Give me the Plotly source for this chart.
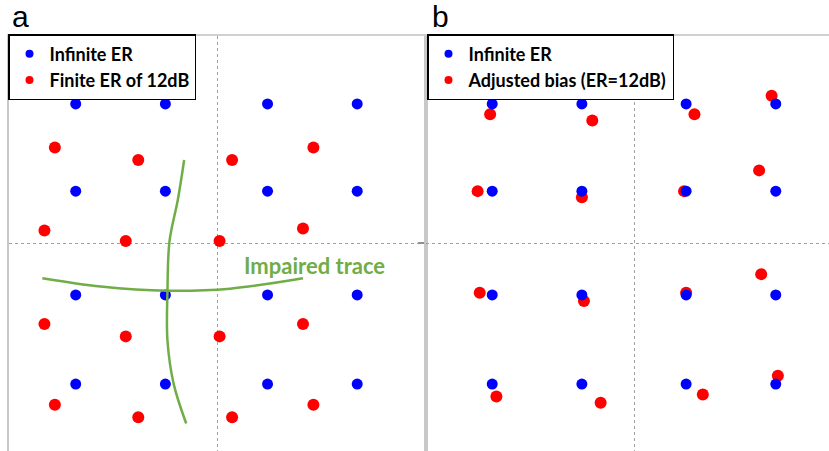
import plotly.graph_objects as go

# ---------------- data (normalised I/Q units) ----------------
# Panel a: ideal constellation (infinite ER)
a_blue_x = [-0.68, -0.25, 0.24, 0.67] * 4
a_blue_y = [0.67] * 4 + [0.25] * 4 + [-0.25] * 4 + [-0.68] * 4

# Panel a: finite ER of 12 dB
a_red_x = [-0.78, -0.38, 0.07, 0.46,
           -0.83, -0.44, 0.01, 0.41,
           -0.83, -0.44, 0.01, 0.41,
           -0.78, -0.38, 0.07, 0.46]
a_red_y = [0.46, 0.40, 0.40, 0.46,
           0.06, 0.01, 0.01, 0.07,
           -0.39, -0.45, -0.45, -0.39,
           -0.78, -0.84, -0.84, -0.78]

# Impaired trace (green curves)
trace_v_x = [-0.16, -0.19, -0.23, -0.24, -0.24, -0.21, -0.15]
trace_v_y = [0.40, 0.21, 0.01, -0.23, -0.47, -0.68, -0.87]
trace_h_x = [-0.84, -0.56, -0.24, 0.06, 0.41]
trace_h_y = [-0.17, -0.21, -0.23, -0.22, -0.17]

# Panel b: ideal constellation
b_blue_x = [-0.68, -0.25, 0.25, 0.68] * 4
b_blue_y = [0.67] * 4 + [0.25] * 4 + [-0.25] * 4 + [-0.68] * 4

# Panel b: adjusted bias (ER = 12 dB)
b_red_x = [-0.69, -0.20, 0.29, 0.66,
           -0.75, -0.25, 0.24, 0.60,
           -0.74, -0.24, 0.25, 0.61,
           -0.66, -0.16, 0.33, 0.69]
b_red_y = [0.62, 0.59, 0.62, 0.71,
           0.25, 0.22, 0.25, 0.35,
           -0.24, -0.28, -0.24, -0.15,
           -0.74, -0.77, -0.73, -0.64]

legend_a = ["Infinite ER", "Finite ER of 12dB"]
legend_b = ["Infinite ER", "Adjusted bias (ER=12dB)"]
panel_labels = ["a", "b"]
annot_text = "Impaired trace"

# ---------------- figure ----------------
W, H = 829, 451
BLUE = "#0000ff"
RED = "#ff0000"
GREEN = "#70ad47"
LEG_FONT = dict(family="Lato, 'Open Sans', sans-serif", size=18, color="black")

fig = go.Figure()

# legend-only entries (small bullets)
for name, col, leg, xa, ya in [
    (legend_a[0], BLUE, "legend", "x", "y"),
    (legend_a[1], RED, "legend", "x", "y"),
    (legend_b[0], BLUE, "legend2", "x2", "y2"),
    (legend_b[1], RED, "legend2", "x2", "y2"),
]:
    fig.add_trace(go.Scatter(x=[None], y=[None], mode="markers",
                             name="<b>" + name + "</b>",
                             marker=dict(color=col, size=8), legend=leg,
                             xaxis=xa, yaxis=ya, showlegend=True))

# panel a
fig.add_trace(go.Scatter(x=a_red_x, y=a_red_y, mode="markers",
                         marker=dict(color=RED, size=12), showlegend=False,
                         xaxis="x", yaxis="y", hoverinfo="skip"))
fig.add_trace(go.Scatter(x=a_blue_x, y=a_blue_y, mode="markers",
                         marker=dict(color=BLUE, size=11), showlegend=False,
                         xaxis="x", yaxis="y", hoverinfo="skip"))
fig.add_trace(go.Scatter(x=trace_v_x, y=trace_v_y, mode="lines",
                         line=dict(color=GREEN, width=2.5, shape="spline"),
                         showlegend=False, xaxis="x", yaxis="y", hoverinfo="skip"))
fig.add_trace(go.Scatter(x=trace_h_x, y=trace_h_y, mode="lines",
                         line=dict(color=GREEN, width=2.5, shape="spline"),
                         showlegend=False, xaxis="x", yaxis="y", hoverinfo="skip"))

# panel b
fig.add_trace(go.Scatter(x=b_red_x, y=b_red_y, mode="markers",
                         marker=dict(color=RED, size=12), showlegend=False,
                         xaxis="x2", yaxis="y2", hoverinfo="skip"))
fig.add_trace(go.Scatter(x=b_blue_x, y=b_blue_y, mode="markers",
                         marker=dict(color=BLUE, size=11), showlegend=False,
                         xaxis="x2", yaxis="y2", hoverinfo="skip"))

SX, SY = 208.5, 207.5
xa_left, xa_right, xa_c = 9, 426, 217.5
xb_left, xb_c = 426, 634
y_top, y_bot, y_c = 36, 451, 243

xr_a = [-(xa_c - xa_left) / SX, (xa_right - xa_c) / SX]
xr_b = [-(xb_c - xb_left) / SX, (W - xb_c) / SX]
yr = [-(y_bot - y_c) / SY, (y_c - y_top) / SY]
ydom = [0, (H - y_top) / H]

grid_common = dict(tickvals=[0], showticklabels=False, showgrid=True,
                   gridcolor="#a0a0a0", griddash="dot", gridwidth=1,
                   zeroline=False, fixedrange=True)

fig.update_layout(
    width=W, height=H,
    margin=dict(l=0, r=0, t=0, b=0),
    paper_bgcolor="white", plot_bgcolor="white",
    xaxis=dict(domain=[xa_left / W, xa_right / W], range=xr_a, side="top",
               anchor="y", showline=True, linecolor="#d0d0d0", linewidth=1.5,
               ticks="", **grid_common),
    yaxis=dict(domain=ydom, range=yr, anchor="x", showline=True, mirror=True,
               linecolor="#c8c8c8", linewidth=2, ticks="", **grid_common),
    xaxis2=dict(domain=[xb_left / W, 1], range=xr_b, side="top",
                anchor="y2", showline=True, linecolor="#d0d0d0", linewidth=1.5,
                ticks="", **grid_common),
    yaxis2=dict(domain=ydom, range=yr, anchor="x2", showline=True,
                linecolor="#c8c8c8", linewidth=2, ticks="outside", ticklen=6,
                tickcolor="#909090", tickwidth=1.5, **grid_common),
    legend=dict(x=8 / W, y=1 - 34 / H, xanchor="left", yanchor="top",
                bgcolor="white", bordercolor="black", borderwidth=1.5,
                font=LEG_FONT, tracegroupgap=0, itemwidth=30),
    legend2=dict(x=427 / W, y=1 - 34 / H, xanchor="left", yanchor="top",
                 bgcolor="white", bordercolor="black", borderwidth=1.5,
                 font=LEG_FONT, tracegroupgap=0, itemwidth=30),
    showlegend=True,
)

# panel labels
for lab, px in zip(panel_labels, [10, 430]):
    fig.add_annotation(text=lab, xref="paper", yref="paper",
                       x=px / W, y=1 - 16.6 / H, xanchor="left", yanchor="middle",
                       showarrow=False,
                       font=dict(family="Liberation Sans, Arial, sans-serif",
                                 size=30, color="black"))

# impaired trace label
fig.add_annotation(text="<b>" + annot_text + "</b>", xref="x", yref="y",
                   x=(314.5 - xa_c) / SX, y=(y_c - 265) / SY,
                   xanchor="center", yanchor="middle", showarrow=False,
                   font=dict(family="Lato, 'Open Sans', sans-serif", size=22,
                             color=GREEN))

fig.write_html("out.html",
               config={"displayModeBar": False},
               post_script="document.body.style.margin='0';"
                           "document.body.style.overflow='hidden';")
